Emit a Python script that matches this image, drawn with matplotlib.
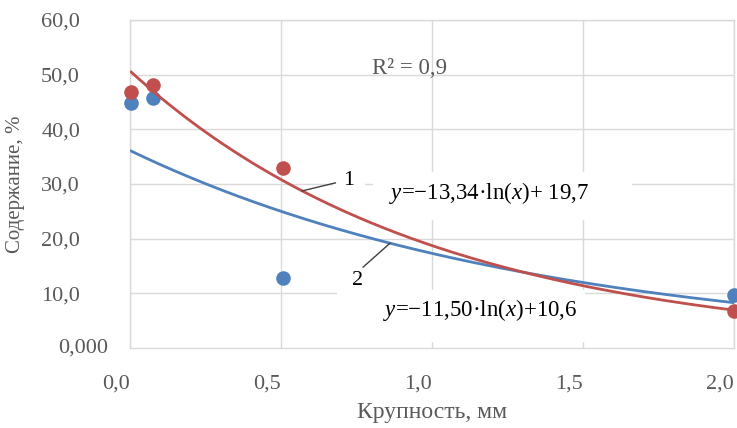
import matplotlib
matplotlib.use("Agg")
import numpy as np
import matplotlib.pyplot as plt
from matplotlib.patches import Rectangle

plt.rcParams["font.family"] = ["Liberation Serif", "DejaVu Serif"]
plt.rcParams["mathtext.fontset"] = "custom"
plt.rcParams["mathtext.rm"] = "Liberation Serif"
plt.rcParams["mathtext.it"] = "Liberation Serif:italic"

# particle size, mm
size_mm = np.array([0.004, 0.076, 0.505, 2.0])
# content, %
content_1 = np.array([46.8, 48.1, 32.9, 6.8])   # series 1 (red)
content_2 = np.array([44.8, 45.7, 12.8, 9.7])   # series 2 (blue)

x_ticks = [0.0, 0.5, 1.0, 1.5, 2.0]
x_labels = ["0,0", "0,5", "1,0", "1,5", "2,0"]
y_ticks = [10, 20, 30, 40, 50, 60]
y_labels = ["10,0", "20,0", "30,0", "40,0", "50,0", "60,0"]

C_RED = "#c0504d"
C_BLUE = "#4f81bd"
C_GRID = "#d9d9d9"
C_TICK = "#595959"


def exp_fit(x, y):
    # exponential trendline y = a*exp(b*x)
    b, lna = np.polyfit(x, np.log(y), 1)
    return lambda t: np.exp(lna) * np.exp(b * t)


fit_1 = exp_fit(size_mm, content_1)
fit_2 = exp_fit(size_mm, content_2)

fig = plt.figure(figsize=(7.37, 4.28), dpi=100)
ax = fig.add_axes([0.1764, 0.1869, 0.8195, 0.7664])
ax.set_xlim(0, 2.0)
ax.set_ylim(0, 60)

ax.set_axisbelow(True)
ax.grid(True, color=C_GRID, lw=1.0)
for s in ax.spines.values():
    s.set_color(C_GRID)
    s.set_linewidth(1.0)

ax.set_xticks(x_ticks)
ax.set_xticklabels(x_labels, ha="right", fontsize=16, color=C_TICK)
ax.set_yticks(y_ticks)
ax.set_yticklabels(y_labels, fontsize=16, color=C_TICK)
ax.tick_params(axis="x", length=0, pad=19)
ax.tick_params(axis="y", length=0, pad=36)
ax.text(-0.037, 0, "0,000", transform=ax.get_yaxis_transform(),
        ha="right", va="center", fontsize=16, color=C_TICK)

ax.set_xlabel("Крупность, мм", fontsize=17, color=C_TICK)
ax.xaxis.set_label_coords(0.5, -0.165)
ax.set_ylabel("Содержание, %", fontsize=15, color=C_TICK)
ax.yaxis.set_label_coords(-0.174, 0.5)

# white backing under the labels
for (x0, y0, w, h) in [(0.805, 23.4, 0.857, 8.8),
                       (0.672, 28.9, 0.106, 3.3),
                       (0.685, 1.1, 0.822, 9.6)]:
    ax.add_patch(Rectangle((x0, y0), w, h, facecolor="white",
                           edgecolor="none", zorder=1))

# data points
ax.plot(size_mm, content_2, "o", color=C_BLUE, ms=10.5, mec="none",
        zorder=3, clip_on=False)
ax.plot(size_mm, content_1, "o", color=C_RED, ms=10.5, mec="none",
        zorder=3, clip_on=False)

# trendlines
xs = np.linspace(size_mm.min(), size_mm.max(), 300)
ax.plot(xs, fit_2(xs), color=C_BLUE, lw=2.0, zorder=4)
ax.plot(xs, fit_1(xs), color=C_RED, lw=2.0, zorder=4)

# curve labels with leaders
ax.plot([0.57, 0.68], [fit_1(0.57), 30.2], color="#404040", lw=1.0, zorder=5)
ax.text(0.725, 30.7, "1", fontsize=16, ha="center", va="center", zorder=6)
ax.plot([0.861, 0.772], [fit_2(0.861), 14.8], color="#404040", lw=1.0, zorder=5)
ax.text(0.752, 12.4, "2", fontsize=16, ha="center", va="center", zorder=6)

ax.text(1.19, 28.35, "$y$=−13,34·ln($x$)+ 19,7", fontsize=16.5,
        ha="center", va="center", zorder=6)
ax.text(1.16, 6.95, "$y$=−11,50·ln($x$)+10,6", fontsize=16.5,
        ha="center", va="center", zorder=6)
ax.text(0.927, 51.2, "R² = 0,9", fontsize=16.5, color=C_TICK,
        ha="center", va="center", zorder=6)

fig.savefig("out.png", dpi=100, facecolor="white")
